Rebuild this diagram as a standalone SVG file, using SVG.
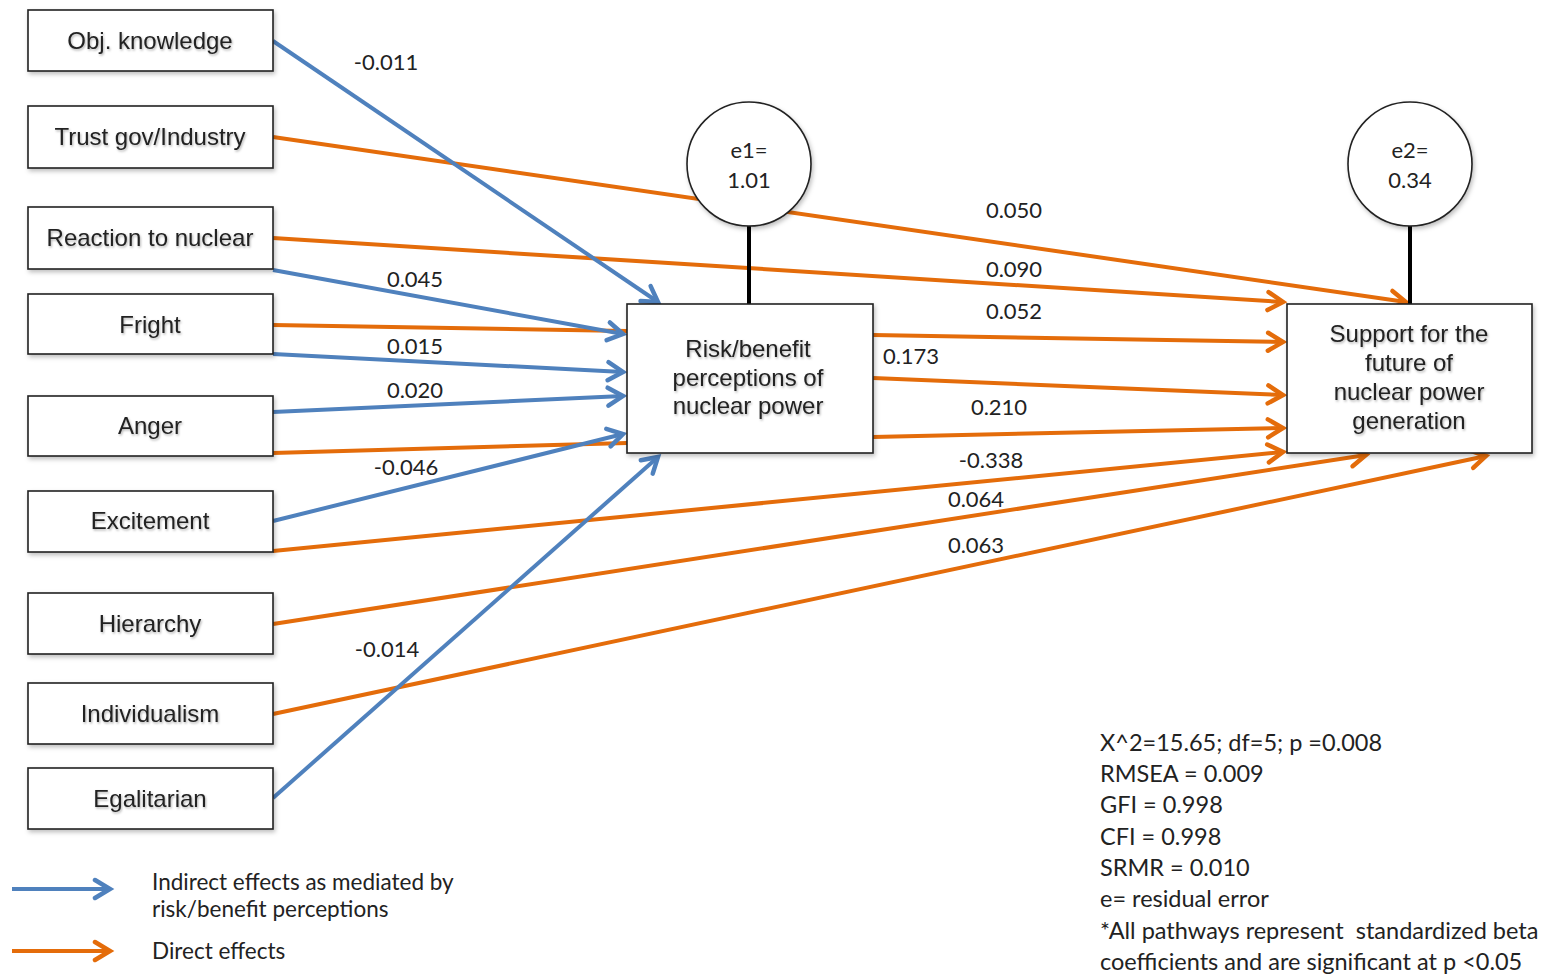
<svg xmlns="http://www.w3.org/2000/svg" width="1556" height="975" viewBox="0 0 1556 975">
<defs>
<style>
.box{fill:#fff;stroke:#222;stroke-width:1.6;filter:url(#sh)}
.bt{font-family:"Liberation Sans",Arial,sans-serif;font-size:24px;fill:#222;text-anchor:middle;filter:url(#tsh)}
.lab{font-family:Lato,"Open Sans",sans-serif;font-size:22px;fill:#222;text-anchor:middle}
.ct{font-family:Lato,"Open Sans",sans-serif;font-size:22px;fill:#222;text-anchor:middle}
.note{font-family:Lato,"Open Sans",sans-serif;font-size:23.5px;fill:#222}
.leg{font-family:Lato,"Open Sans",sans-serif;font-size:22.5px;fill:#222}
.b{stroke:#4F81BD;stroke-width:4;fill:none}
.o{stroke:#E46C0A;stroke-width:4;fill:none}
.ba{marker-end:url(#mb)}
.oa{marker-end:url(#mo)}
.stem{stroke:#000;stroke-width:4}
</style>
<filter id="sh" x="-5%" y="-5%" width="115%" height="125%">
<feDropShadow dx="1.5" dy="2.5" stdDeviation="2" flood-color="#000" flood-opacity="0.25"/>
</filter>
<filter id="tsh" x="-5%" y="-20%" width="115%" height="150%">
<feDropShadow dx="1" dy="1.5" stdDeviation="1" flood-color="#000" flood-opacity="0.3"/>
</filter>
<marker id="mb" markerUnits="userSpaceOnUse" viewBox="0 0 24 24" markerWidth="24" markerHeight="24" refX="19" refY="12" orient="auto">
<path d="M4,3 L19,12 L4,21" fill="none" stroke="#4F81BD" stroke-width="4.5" stroke-linecap="round"/>
</marker>
<marker id="mo" markerUnits="userSpaceOnUse" viewBox="0 0 24 24" markerWidth="24" markerHeight="24" refX="19" refY="12" orient="auto">
<path d="M4,3 L19,12 L4,21" fill="none" stroke="#E46C0A" stroke-width="4.5" stroke-linecap="round"/>
</marker>
</defs>
<rect width="1556" height="975" fill="#fff"/>

<g id="connectors">
<line class="o oa" x1="273" y1="137" x2="1406" y2="302"/>
<line class="o oa" x1="273" y1="238" x2="1283" y2="302"/>
<line class="o" x1="273" y1="325" x2="627" y2="331"/>
<line class="o" x1="273" y1="453" x2="627" y2="443"/>
<line class="o oa" x1="273" y1="551" x2="1283" y2="452"/>
<line class="o oa" x1="273" y1="624" x2="1366" y2="455"/>
<line class="o oa" x1="273" y1="714" x2="1486" y2="456"/>
<line class="o oa" x1="873" y1="335" x2="1283" y2="342"/>
<line class="o oa" x1="873" y1="378" x2="1283" y2="395"/>
<line class="o oa" x1="873" y1="437" x2="1283" y2="428"/>
<line class="b ba" x1="273" y1="41" x2="658" y2="302"/>
<line class="b ba" x1="273" y1="270" x2="623" y2="334"/>
<line class="b ba" x1="273" y1="354" x2="623" y2="372"/>
<line class="b ba" x1="273" y1="412" x2="623" y2="396"/>
<line class="b ba" x1="273" y1="521" x2="623" y2="434"/>
<line class="b ba" x1="273" y1="798" x2="658" y2="457"/>
<line class="stem" x1="749" y1="226" x2="749" y2="304"/>
<line class="stem" x1="1410" y1="226" x2="1410" y2="304"/>
</g>

<g id="labels">
<text class="lab" x="386" y="70">-0.011</text>
<text class="lab" x="415" y="287">0.045</text>
<text class="lab" x="415" y="354">0.015</text>
<text class="lab" x="415" y="398">0.020</text>
<text class="lab" x="406" y="475">-0.046</text>
<text class="lab" x="387" y="657">-0.014</text>
<text class="lab" x="1014" y="218">0.050</text>
<text class="lab" x="1014" y="277">0.090</text>
<text class="lab" x="1014" y="319">0.052</text>
<text class="lab" x="911" y="364">0.173</text>
<text class="lab" x="999" y="415">0.210</text>
<text class="lab" x="991" y="468">-0.338</text>
<text class="lab" x="976" y="507">0.064</text>
<text class="lab" x="976" y="553">0.063</text>
</g>

<g id="n-obj"><rect class="box" x="28" y="10" width="245" height="61"/><text class="bt" x="150" y="49">Obj. knowledge</text></g>
<g id="n-trust"><rect class="box" x="28" y="106" width="245" height="62"/><text class="bt" x="150" y="145">Trust gov/Industry</text></g>
<g id="n-reaction"><rect class="box" x="28" y="207" width="245" height="62"/><text class="bt" x="150" y="246">Reaction to nuclear</text></g>
<g id="n-fright"><rect class="box" x="28" y="294" width="245" height="60"/><text class="bt" x="150" y="333">Fright</text></g>
<g id="n-anger"><rect class="box" x="28" y="396" width="245" height="60"/><text class="bt" x="150" y="434">Anger</text></g>
<g id="n-excitement"><rect class="box" x="28" y="491" width="245" height="61"/><text class="bt" x="150" y="529">Excitement</text></g>
<g id="n-hierarchy"><rect class="box" x="28" y="593" width="245" height="61"/><text class="bt" x="150" y="632">Hierarchy</text></g>
<g id="n-individualism"><rect class="box" x="28" y="683" width="245" height="61"/><text class="bt" x="150" y="722">Individualism</text></g>
<g id="n-egalitarian"><rect class="box" x="28" y="768" width="245" height="61"/><text class="bt" x="150" y="807">Egalitarian</text></g>

<g id="n-risk"><rect class="box" x="627" y="304" width="246" height="149"/>
<text class="bt" x="748" y="357">Risk/benefit</text>
<text class="bt" x="748" y="386">perceptions of</text>
<text class="bt" x="748" y="414">nuclear power</text></g>

<g id="n-support"><rect class="box" x="1287" y="304" width="245" height="149"/>
<text class="bt" x="1409" y="342">Support for the</text>
<text class="bt" x="1409" y="371">future of</text>
<text class="bt" x="1409" y="400">nuclear power</text>
<text class="bt" x="1409" y="429">generation</text></g>

<g id="n-e1"><circle cx="749" cy="164" r="62" fill="#fff" stroke="#222" stroke-width="1.6" filter="url(#sh)"/>
<text class="ct" x="749" y="158">e1=</text><text class="ct" x="749" y="188">1.01</text></g>
<g id="n-e2"><circle cx="1410" cy="164" r="62" fill="#fff" stroke="#222" stroke-width="1.6" filter="url(#sh)"/>
<text class="ct" x="1410" y="158">e2=</text><text class="ct" x="1410" y="188">0.34</text></g>

<g id="legend">
<line class="b ba" x1="12" y1="889" x2="110" y2="889"/>
<line class="o oa" x1="12" y1="951" x2="110" y2="951"/>
<text class="leg" x="152" y="890">Indirect effects as mediated by</text>
<text class="leg" x="152" y="917">risk/benefit perceptions</text>
<text class="leg" x="152" y="959">Direct effects</text>
</g>

<g id="stats">
<text class="note" x="1100" y="751">X^2=15.65; df=5; p =0.008</text>
<text class="note" x="1100" y="782">RMSEA = 0.009</text>
<text class="note" x="1100" y="813">GFI = 0.998</text>
<text class="note" x="1100" y="845">CFI = 0.998</text>
<text class="note" x="1100" y="876">SRMR = 0.010</text>
<text class="note" x="1100" y="907">e= residual error</text>
<text class="note" x="1100" y="939" xml:space="preserve">*All pathways represent  standardized beta</text>
<text class="note" x="1100" y="970">coefficients and are significant at p &lt;0.05</text>
</g>
</svg>
